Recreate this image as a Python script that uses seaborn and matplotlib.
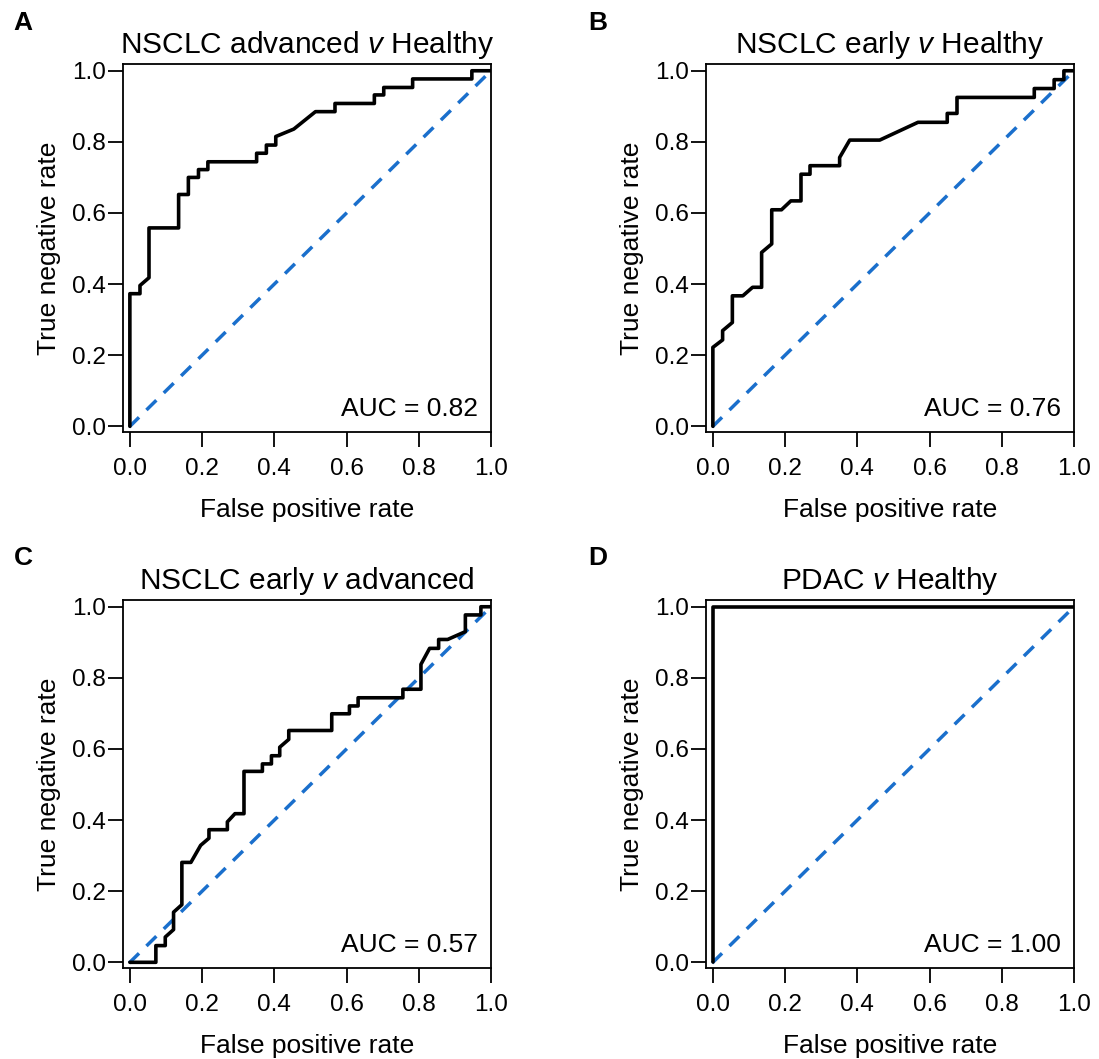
import numpy as np
import pandas as pd
import matplotlib
matplotlib.use("Agg")
import matplotlib.pyplot as plt
import seaborn as sns

# ROC curves (x = false positive rate, y = true negative rate)
fpr_a = [0, 0, 0.028, 0.028, 0.053, 0.053, 0.135, 0.135, 0.162, 0.162, 0.19, 0.19,
         0.216, 0.216, 0.351, 0.351, 0.378, 0.378, 0.404, 0.404, 0.454, 0.514, 0.568,
         0.568, 0.677, 0.677, 0.703, 0.703, 0.783, 0.783, 0.947, 0.947, 1.0]
tnr_a = [0, 0.373, 0.373, 0.396, 0.418, 0.558, 0.558, 0.652, 0.652, 0.70, 0.70, 0.722,
         0.722, 0.744, 0.744, 0.768, 0.768, 0.791, 0.791, 0.815, 0.836, 0.885, 0.885,
         0.908, 0.908, 0.932, 0.932, 0.953, 0.953, 0.977, 0.977, 1.0, 1.0]

fpr_b = [0, 0, 0.027, 0.027, 0.054, 0.054, 0.083, 0.11, 0.135, 0.135, 0.163, 0.163,
         0.19, 0.216, 0.244, 0.244, 0.269, 0.269, 0.351, 0.351, 0.379, 0.462, 0.568,
         0.649, 0.649, 0.676, 0.676, 0.89, 0.89, 0.945, 0.945, 0.972, 0.972, 1.0]
tnr_b = [0, 0.222, 0.243, 0.269, 0.292, 0.367, 0.367, 0.391, 0.391, 0.489, 0.513, 0.609,
         0.609, 0.634, 0.634, 0.709, 0.709, 0.733, 0.733, 0.756, 0.805, 0.805, 0.855,
         0.855, 0.88, 0.88, 0.925, 0.925, 0.95, 0.95, 0.975, 0.975, 1.0, 1.0]

fpr_c = [0, 0.072, 0.072, 0.098, 0.098, 0.121, 0.121, 0.144, 0.144, 0.169, 0.196, 0.219,
         0.219, 0.27, 0.27, 0.291, 0.316, 0.316, 0.367, 0.367, 0.392, 0.392, 0.415, 0.415,
         0.44, 0.44, 0.559, 0.559, 0.608, 0.608, 0.632, 0.632, 0.756, 0.756, 0.806, 0.806,
         0.83, 0.855, 0.855, 0.88, 0.929, 0.929, 0.972, 0.972, 1.0]
tnr_c = [0, 0, 0.047, 0.047, 0.071, 0.092, 0.141, 0.162, 0.281, 0.281, 0.329, 0.349,
         0.373, 0.373, 0.395, 0.418, 0.418, 0.537, 0.537, 0.558, 0.558, 0.581, 0.581, 0.605,
         0.627, 0.652, 0.652, 0.699, 0.699, 0.721, 0.721, 0.744, 0.744, 0.768, 0.768, 0.838,
         0.883, 0.883, 0.908, 0.908, 0.93, 0.977, 0.977, 1.0, 1.0]

fpr_d = [0, 0, 1.0]
tnr_d = [0, 1.0, 1.0]

# chance line y = x (clipped to the axes)
diag = [-0.05, 1.05]

titles = [r"NSCLC advanced $\mathit{v}$ Healthy", r"NSCLC early $\mathit{v}$ Healthy",
          r"NSCLC early $\mathit{v}$ advanced", r"PDAC $\mathit{v}$ Healthy"]
aucs = ["0.82", "0.76", "0.57", "1.00"]
letters = ["A", "B", "C", "D"]
curves = [(fpr_a, tnr_a), (fpr_b, tnr_b), (fpr_c, tnr_c), (fpr_d, tnr_d)]
ticks = [0.0, 0.2, 0.4, 0.6, 0.8, 1.0]

sns.set_style("ticks", {"text.color": "black", "axes.labelcolor": "black",
                        "xtick.color": "black", "ytick.color": "black",
                        "axes.edgecolor": "black"})
plt.rcParams["font.family"] = ["Liberation Sans", "DejaVu Sans"]
plt.rcParams["mathtext.fontset"] = "custom"
plt.rcParams["mathtext.rm"] = "Liberation Sans"
plt.rcParams["mathtext.it"] = "Liberation Sans:italic"

fig = plt.figure(figsize=(10.99, 10.59), dpi=100)
W, H = 1099, 1059
# axes boxes in pixels: left, top
boxes = [(123, 64), (706, 64), (123, 600), (706, 600)]
aw, ah = 368, 368
letter_pos = [(23, 23), (598, 23), (23, 558), (598, 558)]

for i, (fx, ty) in enumerate(curves):
    left, top = boxes[i]
    ax = fig.add_axes([left / W, 1 - (top + ah) / H, aw / W, ah / H])
    sns.lineplot(x=diag, y=diag, ax=ax, color="#1a6fcc", lw=2.5,
                 linestyle=(0, (4, 3)), estimator=None, sort=False)
    sns.lineplot(x=fx, y=ty, ax=ax, color="black", lw=2.6,
                 estimator=None, sort=False)
    ax.set_xlim(-0.019, 1.0)
    ax.set_ylim(-0.016, 1.019)
    ax.set_xticks(ticks)
    ax.set_yticks(ticks)
    ax.set_xticklabels([f"{v:.1f}" for v in ticks])
    ax.set_yticklabels([f"{v:.1f}" for v in ticks])
    ax.tick_params(direction="out", length=10.5, width=1.3, labelsize=17.5,
                   colors="black")
    ax.tick_params(axis="x", pad=8)
    ax.tick_params(axis="y", pad=2)
    for s in ax.spines.values():
        s.set_linewidth(1.3)
        s.set_visible(True)
    ax.set_xlabel("False positive rate", fontsize=19, labelpad=13)
    ax.set_ylabel("True negative rate", fontsize=19, labelpad=8)
    ax.set_title(titles[i], fontsize=21.5, pad=8)
    ax.text(0.965, 0.043, "AUC = " + aucs[i], transform=ax.transAxes,
            ha="right", va="baseline", fontsize=19)
    lx, ly = letter_pos[i]
    fig.text(lx / W, 1 - ly / H, letters[i], fontsize=19, fontweight="bold",
             ha="center", va="center")

fig.savefig("out.png", dpi=100)
